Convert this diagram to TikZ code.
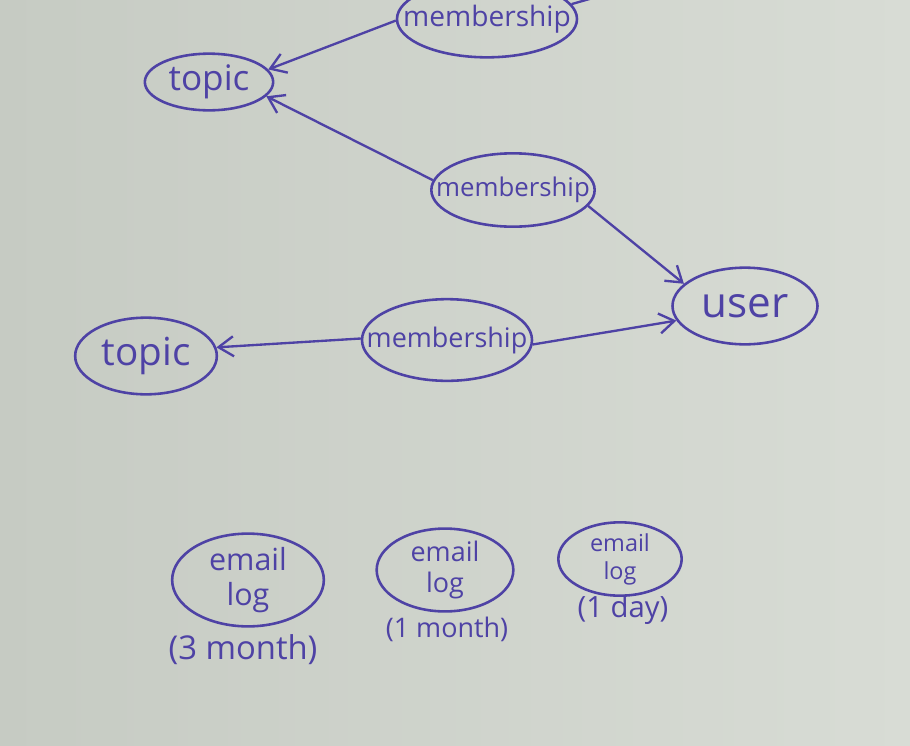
\documentclass[tikz,border=0pt]{standalone}
\usepackage{fontspec}
\setmainfont{Open Sans}
\usetikzlibrary{shapes.geometric,arrows.meta}
\definecolor{paperL}{RGB}{198,203,195}
\definecolor{paperR}{RGB}{216,220,213}
\definecolor{ink}{RGB}{78,66,165}
\tikzset{
  blob/.style={draw=ink, line width=2.2pt, ellipse, inner sep=0pt, text=ink, align=center},
  link/.style={draw=ink, line width=2pt, -{Straight Barb[length=4.5mm,width=6mm,line width=2pt]}},
  plain/.style={draw=ink, line width=2pt},
  note/.style={text=ink, inner sep=0pt},
}
\newcommand{\fs}[1]{\fontsize{#1}{#1}\selectfont}
\newcommand{\fsb}[2]{\fontsize{#1}{#2}\selectfont}
\newcommand{\zw}[1]{\makebox[0pt]{#1}}
\begin{document}
\begin{tikzpicture}[x=0.03cm,y=-0.03cm]
\shade[left color=paperL, right color=paperR] (0,0) rectangle (910,746);
\useasboundingbox (0,0) rectangle (910,746);
\clip (0,0) rectangle (910,746);
% nodes
\node[blob, minimum width=5.4cm, minimum height=2.3cm, font=\fs{24}] (m1) at (487,19) {\zw{membership}};
\node[blob, minimum width=3.85cm, minimum height=1.7cm, font=\fs{30}] (t1) at (209,82) {\zw{topic}};
\node[blob, minimum width=4.9cm, minimum height=2.2cm, font=\fs{22}] (m2) at (513,190) {\zw{membership}};
\node[blob, minimum width=4.35cm, minimum height=2.3cm, font=\fs{36}] (u) at (745,306) {\zw{user}};
\node[blob, minimum width=4.25cm, minimum height=2.3cm, font=\fs{33}] (t2) at (146,356) {\zw{topic}};
\node[blob, minimum width=5.1cm, minimum height=2.45cm, font=\fs{23}] (m3) at (447,340) {\zw{membership}};
\node[blob, minimum width=4.55cm, minimum height=2.65cm, font=\fsb{26}{30}] (e1) at (248,580) {\zw{email}\\\zw{log}};
\node[blob, minimum width=4.1cm, minimum height=2.3cm, font=\fsb{23}{27}] (e2) at (445,570) {\zw{email}\\\zw{log}};
\node[blob, minimum width=3.7cm, minimum height=2.2cm, font=\fsb{20}{24}] (e3) at (620,559) {\zw{email}\\\zw{log}};
\node[note, font=\fs{28}] (l1) at (243,650) {(3 month)};
\node[note, font=\fs{23}] (l2) at (447,629) {(1 month)};
\node[note, font=\fs{25}] (l3) at (623,610) {(1 day)};
\coordinate (off) at (600,-4);
% connectors
\draw[link] (m1.181) -- (t1.12);
\draw[link] (m2.173) -- (t1.-14);
\draw[link] (m2.-12) -- (u.160);
\draw[link] (m3.179) -- (t2.7);
\draw[link] (m3.-3) -- (u.-168);
\draw[plain] (m1.10) -- (off);
\end{tikzpicture}
\end{document}
